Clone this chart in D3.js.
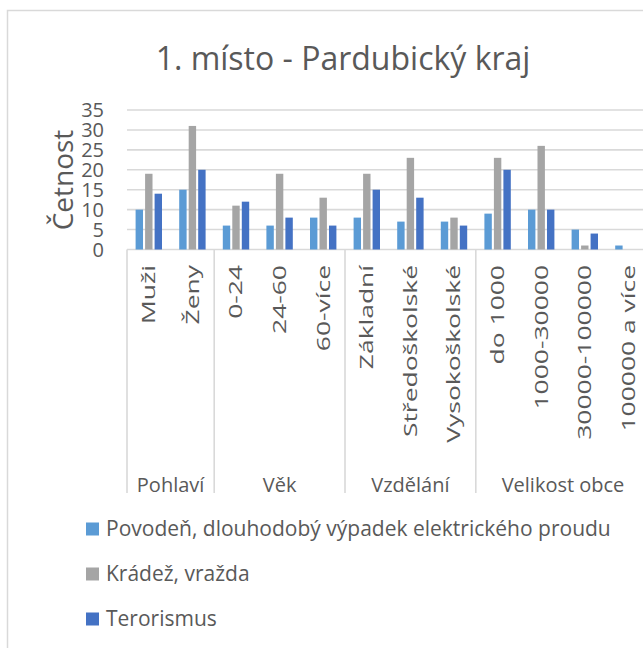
<!DOCTYPE html>
<html>
<head>
<meta charset="utf-8">
<script src="https://cdn.jsdelivr.net/npm/d3@7"></script>
<style>
  body { margin: 0; background: #fff; }
  text { font-family: "Open Sans", sans-serif; fill: #595959; }
</style>
</head>
<body>
<div id="chart"></div>
<script>
// data
const categories = ["Muži", "Ženy", "0-24", "24-60", "60-více", "Základní", "Středoškolské",
  "Vysokoškolské", "do 1000", "1000-30000", "30000-100000", "100000 a více"];
const categoryGroups = ["Pohlaví", "Pohlaví", "Věk", "Věk", "Věk", "Vzdělání", "Vzdělání",
  "Vzdělání", "Velikost obce", "Velikost obce", "Velikost obce", "Velikost obce"];
const seriesNames = ["Povodeň, dlouhodobý výpadek elektrického proudu", "Krádež, vražda", "Terorismus"];
const povoden = [10, 15, 6, 6, 8, 8, 7, 7, 9, 10, 5, 1];
const kradez = [19, 31, 11, 19, 13, 19, 23, 8, 23, 26, 1, 0];
const terorismus = [14, 20, 12, 8, 6, 15, 13, 6, 20, 10, 4, 0];
const yTicks = [0, 5, 10, 15, 20, 25, 30, 35];
const colors = ["#5b9bd5", "#a5a5a5", "#4472c4"];

const width = 643, height = 648;
const svg = d3.select("#chart").append("svg")
  .attr("width", width).attr("height", height);

// chart border (runs off the right and bottom edge like the source)
svg.append("rect")
  .attr("x", 7.5).attr("y", 10.5)
  .attr("width", 700).attr("height", 700)
  .attr("fill", "none").attr("stroke", "#d9d9d9").attr("stroke-width", 1.5);

svg.append("text")
  .attr("x", 343).attr("y", 70)
  .attr("text-anchor", "middle")
  .style("font-size", "32px")
  .text("1. místo - Pardubický kraj");

const x = d3.scaleBand().domain(categories).range([127, 650.2]);
const x1 = d3.scaleBand().domain(seriesNames).range([8.6, 35]).paddingInner(0.22);
const y = d3.scaleLinear().domain([0, 35]).range([249.5, 110]);

// gridlines
svg.append("g").selectAll("line")
  .data(yTicks)
  .join("line")
  .attr("x1", 127).attr("x2", 700)
  .attr("y1", d => y(d)).attr("y2", d => y(d))
  .attr("stroke", "#d9d9d9").attr("stroke-width", 1.6);

// y axis labels
svg.append("g").selectAll("text")
  .data(yTicks)
  .join("text")
  .attr("x", 104).attr("y", d => y(d))
  .attr("dy", "0.35em")
  .attr("text-anchor", "end")
  .style("font-size", "20px")
  .text(d => d);

svg.append("text")
  .attr("transform", "translate(73,180) rotate(-90)")
  .attr("text-anchor", "middle")
  .style("font-size", "28px")
  .text("Četnost");

// bars
const rows = categories.map((c, i) => ({ cat: c, values: [povoden[i], kradez[i], terorismus[i]] }));
svg.append("g").selectAll("g")
  .data(rows)
  .join("g")
  .attr("transform", d => `translate(${x(d.cat)},0)`)
  .selectAll("rect")
  .data(d => d.values.map((v, k) => ({ name: seriesNames[k], v, k })))
  .join("rect")
  .attr("x", d => x1(d.name))
  .attr("width", x1.bandwidth())
  .attr("y", d => y(d.v))
  .attr("height", d => y(0) - y(d.v))
  .attr("fill", d => colors[d.k]);

// multi-level category axis
const groups = Array.from(d3.group(categories.map((c, i) => ({ c, g: categoryGroups[i] })), d => d.g),
  ([g, items]) => ({ g, first: items[0].c, last: items[items.length - 1].c }));

const axisG = svg.append("g");
const dividers = [x(categories[0])].concat(groups.map(gr => x(gr.last) + x.bandwidth()));
axisG.selectAll("line")
  .data(dividers)
  .join("line")
  .attr("x1", d => d).attr("x2", d => d)
  .attr("y1", 249.5).attr("y2", 493)
  .attr("stroke", "#d9d9d9").attr("stroke-width", 1.6);

// rotated labels are drawn stretched along their length, as in the source
const stretch = 1.47;
axisG.selectAll("text.cat")
  .data(categories)
  .join("text")
  .attr("class", "cat")
  .attr("transform", d => `translate(${x(d) + x.bandwidth() / 2},265) rotate(-90) scale(${stretch},1)`)
  .attr("text-anchor", "end")
  .attr("dy", "0.35em")
  .style("font-size", "18px")
  .text(d => d);

axisG.selectAll("text.grp")
  .data(groups)
  .join("text")
  .attr("class", "grp")
  .attr("x", d => (x(d.first) + x(d.last) + x.bandwidth()) / 2)
  .attr("y", 485)
  .attr("dy", "0.35em")
  .attr("text-anchor", "middle")
  .style("font-size", "20px")
  .text(d => d.g);

// legend
const legend = svg.append("g").selectAll("g")
  .data(seriesNames)
  .join("g")
  .attr("transform", (d, i) => `translate(86,${529 + i * 45})`);
legend.append("rect")
  .attr("x", 0).attr("y", -6.5).attr("width", 13).attr("height", 13)
  .attr("fill", (d, i) => colors[i]);
legend.append("text")
  .attr("x", 20).attr("dy", "0.35em")
  .style("font-size", "21px")
  .text(d => d);
</script>
</body>
</html>
